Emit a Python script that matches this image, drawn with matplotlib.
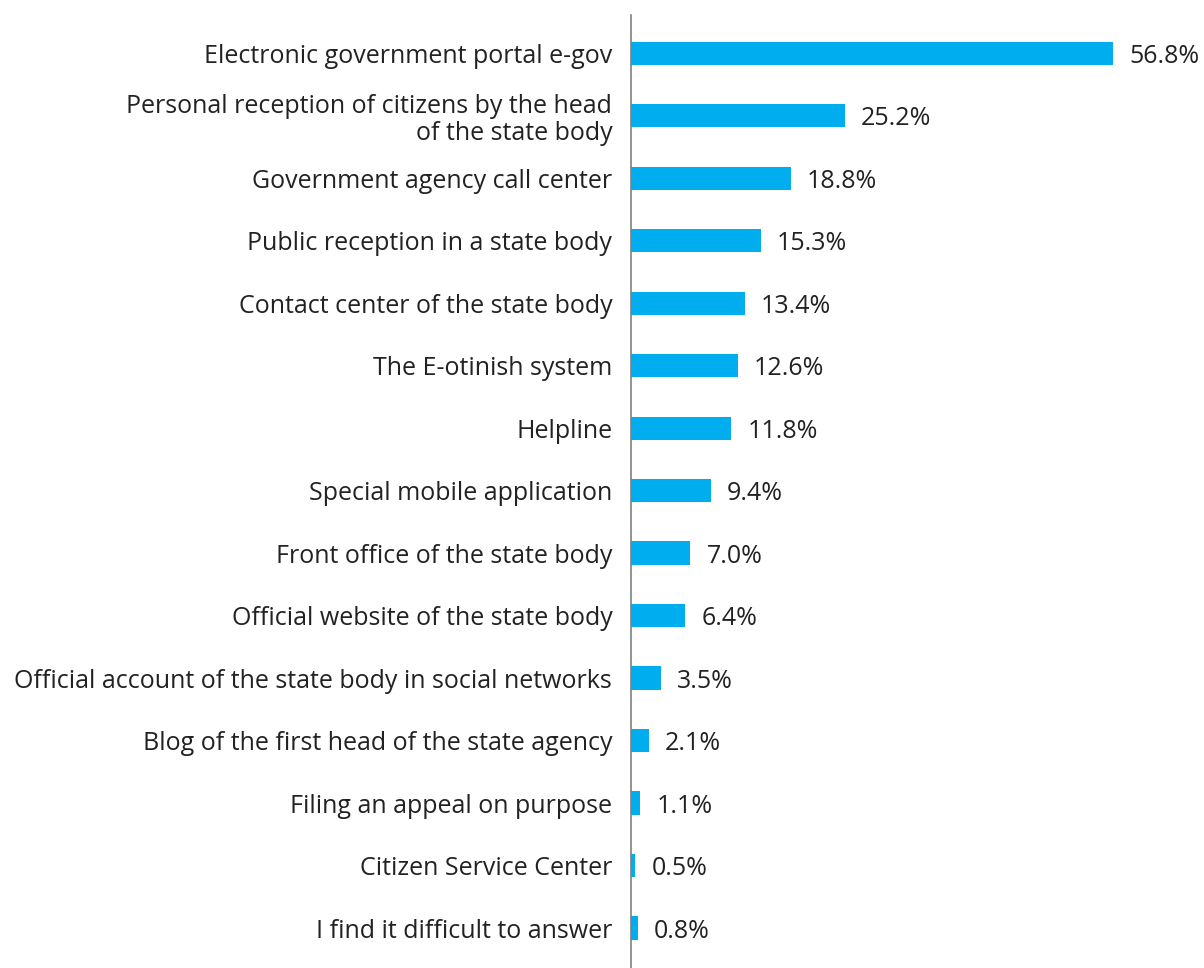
import matplotlib
matplotlib.use("Agg")
import matplotlib.pyplot as plt

channels = [
    "Electronic government portal e-gov",
    "Personal reception of citizens by the head\nof the state body",
    "Government agency call center",
    "Public reception in a state body",
    "Contact center of the state body",
    "The E-otinish system",
    "Helpline",
    "Special mobile application",
    "Front office of the state body",
    "Official website of the state body",
    "Official account of the state body in social networks",
    "Blog of the first head of the state agency",
    "Filing an appeal on purpose",
    "Citizen Service Center",
    "I find it difficult to answer",
]
shares = [56.8, 25.2, 18.8, 15.3, 13.4, 12.6, 11.8, 9.4, 7.0, 6.4, 3.5, 2.1, 1.1, 0.5, 0.8]

bar_color = "#00AEEF"
text_color = "#222222"
plt.rcParams["font.family"] = ["Open Sans", "DejaVu Sans"]
fs = 18

fig = plt.figure(figsize=(12.04, 9.68), dpi=100)
ax = fig.add_axes([631 / 1204, 0, 573 / 1204, 953 / 968])

pos = list(range(len(channels)))
ax.barh(pos, shares, height=0.37, color=bar_color)

# percentage labels just right of each bar
for p, v in zip(pos, shares):
    ax.text(v + 1.9, p, f"{v:.1f}%", va="center_baseline", ha="left",
            fontsize=fs, color=text_color)

ax.set_xlim(0, 573 / 8.486)
ax.set_ylim(14.64, -0.61)
ax.set_yticks(pos)
ax.set_yticklabels(channels, fontsize=fs, color=text_color, linespacing=1.1)
ax.tick_params(axis="y", length=0, pad=13.5)
ax.set_xticks([])

for side in ["top", "right", "bottom"]:
    ax.spines[side].set_visible(False)
ax.spines["left"].set_color("#808080")
ax.spines["left"].set_linewidth(1.2)

fig.savefig("out.png", dpi=100)
